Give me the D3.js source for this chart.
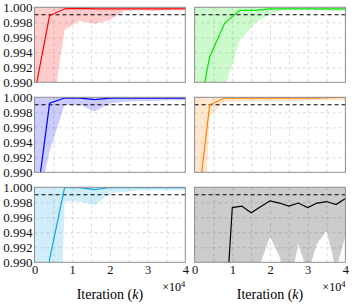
<!DOCTYPE html>
<html>
<head>
<meta charset="utf-8">
<script src="https://cdn.jsdelivr.net/npm/d3@7"></script>
<style>
  body { margin: 0; background: #fff; }
  svg { display: block; font-family: "Liberation Serif", serif; }
  .grid line { stroke: #cfcfcf; stroke-dasharray: 3,3; stroke-width: 0.8; }
  .grid .domain { display: none; }
  .tick text { fill: #111; }
</style>
</head>
<body>
<script>
// iterations sampled for the coloured runs and for the black run
const iterA = [0, 4000, 8000, 12000, 16000, 20000, 24000, 28000, 32000, 36000, 40000];
const iterB = [0, 2500, 5000, 7500, 10000, 12500, 15000, 17500, 20000, 22500, 25000, 27500, 30000, 32500, 35000, 37500, 40000];

const redMean = [0.9884, 0.9989, 0.9998, 0.99985, 0.9998, 0.9998, 0.9998, 0.9998, 0.9998, 0.9998, 0.9998];
const redLow  = [0.970, 0.9837, 0.9970, 0.9982, 0.9978, 0.9983, 0.99955, 0.9996, 0.9995, 0.99965, 0.9996];
const redHigh = [1.0, 1.0, 1.0, 1.0, 1.0, 1.0, 1.0, 1.0, 1.0, 1.0, 1.0];

const greenMean = [0.9832, 0.9934, 0.9979, 0.9996, 0.9996, 0.9998, 0.9998, 0.9998, 0.9998, 0.9998, 0.9998];
const greenLow  = [0.950, 0.960, 0.9892, 0.9956, 0.9979, 0.9991, 0.9997, 0.9997, 0.9997, 0.9995, 0.9995];
const greenHigh = [1.0, 1.0, 1.0, 1.0, 1.0, 1.0, 1.0, 1.0, 1.0, 1.0, 1.0];

const blueMean = [0.9839, 0.9992, 0.9999, 0.9999, 0.9997, 0.9999, 0.9999, 0.9999, 0.9999, 0.9999, 0.9999];
const blueLow  = [0.9835, 0.9928, 0.9990, 0.9990, 0.9981, 0.9992, 0.9994, 0.9995, 0.9995, 0.9996, 0.9996];
const blueHigh = [1.0, 1.0, 1.0, 1.0, 1.0, 1.0, 1.0, 1.0, 1.0, 1.0, 1.0];

const orangeMean = [0.9819, 0.9990, 0.9999, 0.9999, 0.9999, 0.9999, 0.9999, 0.9999, 0.9999, 0.99995, 1.0];
const orangeLow  = [0.958, 0.9975, 0.9994, 0.9995, 0.9995, 0.9995, 0.9995, 0.9995, 0.9996, 0.9996, 0.9996];
const orangeHigh = [1.0, 1.0, 1.0, 1.0, 1.0, 1.0, 1.0, 1.0, 1.0, 1.0, 1.0];

const cyanMean = [0.950, 0.9904, 1.0, 0.99995, 0.9997, 1.0, 0.99995, 0.99995, 0.99995, 0.99995, 0.99995];
const cyanLow  = [0.930, 0.933, 0.9981, 0.9981, 0.9976, 0.9992, 0.9994, 0.9996, 0.9996, 0.9996, 0.9996];
const cyanHigh = [1.0, 1.0, 1.0, 1.0, 1.0, 1.0, 1.0, 1.0, 1.0, 1.0, 1.0];

const blackMean = [0.950, 0.950, 0.960, 0.977, 0.9973, 0.9975, 0.9966, 0.9974, 0.9982, 0.9979, 0.9975, 0.9979, 0.9973, 0.9979, 0.9981, 0.9977, 0.9985];
const blackLow  = [0.950, 0.950, 0.950, 0.950, 0.960, 0.970, 0.975, 0.9899, 0.9934, 0.9908, 0.986, 0.9925, 0.9885, 0.9925, 0.9942, 0.989, 0.9935];
const blackHigh = [1.0, 1.0, 1.0, 1.0, 1.0, 1.0, 1.0, 1.0, 1.0, 1.0, 1.0, 1.0, 1.0, 1.0, 1.0, 1.0, 1.0];

const target = 0.999;
const yTicks = [0.990, 0.992, 0.994, 0.996, 0.998, 1.000];
const xTicks = [0, 10000, 20000, 30000, 40000];
const xGrid = [5000, 10000, 15000, 20000, 25000, 30000, 35000];

const panels = [
  {iter: iterA, mean: redMean, low: redLow, high: redHigh, color: "#ff0000", row: 0, col: 0},
  {iter: iterA, mean: greenMean, low: greenLow, high: greenHigh, color: "#00e600", row: 0, col: 1},
  {iter: iterA, mean: blueMean, low: blueLow, high: blueHigh, color: "#0000ff", row: 1, col: 0},
  {iter: iterA, mean: orangeMean, low: orangeLow, high: orangeHigh, color: "#ff8000", row: 1, col: 1},
  {iter: iterA, mean: cyanMean, low: cyanLow, high: cyanHigh, color: "#12a8e0", row: 2, col: 0},
  {iter: iterB, mean: blackMean, low: blackLow, high: blackHigh, color: "#000000", row: 2, col: 1}
];

const W = 355, H = 305;
const lefts = [34.5, 194.6], tops = [7.3, 97.3, 187.3];
const pw = 150.8, ph = 75;

const x = d3.scaleLinear().domain([0, 40000]).range([0, pw]);
const y = d3.scaleLinear().domain([0.990, 1.000]).range([ph, 0]);

const svg = d3.select("body").append("svg")
    .attr("width", W)
    .attr("height", H);

svg.append("clipPath").attr("id", "clip")
  .append("rect").attr("width", pw).attr("height", ph);

panels.forEach((p, i) => {
  const g = svg.append("g")
      .attr("transform", `translate(${lefts[p.col]}, ${tops[p.row]})`);

  // grid
  g.append("g")
      .attr("class", "grid")
      .attr("transform", `translate(0, ${ph})`)
      .call(d3.axisBottom(x).tickValues(xGrid).tickSize(-ph).tickFormat(""));
  g.append("g")
      .attr("class", "grid")
      .call(d3.axisLeft(y).tickValues(yTicks.slice(1, 5)).tickSize(-pw).tickFormat(""));

  const data = p.iter.map((it, j) => ({it, m: p.mean[j], lo: p.low[j], hi: p.high[j]}));
  const body = g.append("g").attr("clip-path", "url(#clip)");

  body.append("path")
      .datum(data)
      .attr("fill", p.color)
      .attr("fill-opacity", 0.2)
      .attr("d", d3.area().x(d => x(d.it)).y0(d => y(d.lo)).y1(d => y(d.hi)));

  body.append("line")
      .attr("x1", 0).attr("x2", pw)
      .attr("y1", y(target)).attr("y2", y(target))
      .attr("stroke", "#000")
      .attr("stroke-width", 1.1)
      .attr("stroke-dasharray", "4,3");

  body.append("path")
      .datum(data)
      .attr("fill", "none")
      .attr("stroke", p.color)
      .attr("stroke-width", 1.2)
      .attr("d", d3.line().x(d => x(d.it)).y(d => y(d.m)));

  // frame
  g.append("rect")
      .attr("width", pw).attr("height", ph)
      .attr("fill", "none")
      .attr("stroke", "#8c8c8c")
      .attr("stroke-width", 1);

  if (p.col === 0) {
    g.append("g")
        .call(d3.axisLeft(y).tickValues(yTicks).tickSize(0).tickPadding(2).tickFormat(d3.format(".3f")))
        .call(a => a.select(".domain").remove())
        .selectAll("text").style("font-size", "13px").style("font-family", "Liberation Serif");
  }

  if (p.row === 2) {
    g.append("g")
        .attr("transform", `translate(0, ${ph})`)
        .call(d3.axisBottom(x).tickValues(xTicks).tickSize(0).tickPadding(3).tickFormat(d => d / 10000))
        .call(a => a.select(".domain").remove())
        .selectAll("text").style("font-size", "12.5px").style("font-family", "Liberation Serif");

    const ex = g.append("text")
        .attr("x", pw)
        .attr("y", ph + 28.5)
        .attr("text-anchor", "end")
        .style("font-size", "12px");
    ex.append("tspan").text("×10");
    ex.append("tspan").attr("dy", -4).style("font-size", "8.5px").text("4");

    const lab = g.append("text")
        .attr("x", pw / 2)
        .attr("y", ph + 37)
        .attr("text-anchor", "middle")
        .style("font-size", "14px");
    lab.append("tspan").text("Iteration (");
    lab.append("tspan").style("font-style", "italic").text("k");
    lab.append("tspan").text(")");
  }
});
</script>
</body>
</html>
